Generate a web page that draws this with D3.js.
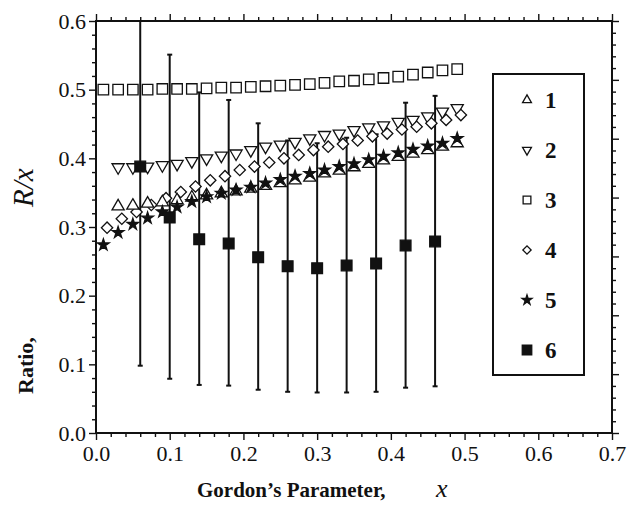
<!DOCTYPE html>
<html>
<head>
<meta charset="utf-8">
<script src="https://cdn.jsdelivr.net/npm/d3@7"></script>
<style>
  body { margin: 0; background: #fff; }
  svg text { font-family: 'Liberation Serif', 'Times New Roman', serif !important; fill: #111; }
</style>
</head>
<body>
<div id="chart"></div>
<script>
// values
const x3 = [0.01,0.03,0.05,0.07,0.09,0.11,0.13,0.15,0.17,0.19,0.21,0.23,0.25,0.27,0.29,0.31,0.33,0.35,0.37,0.39,0.41,0.43,0.45,0.47,0.49];
const y3 = [0.500,0.500,0.500,0.500,0.501,0.501,0.501,0.502,0.503,0.503,0.504,0.505,0.506,0.507,0.508,0.510,0.512,0.513,0.515,0.517,0.519,0.522,0.525,0.528,0.530];

const x12 = [0.03,0.05,0.07,0.09,0.11,0.13,0.15,0.17,0.19,0.21,0.23,0.25,0.27,0.29,0.31,0.33,0.35,0.37,0.39,0.41,0.43,0.45,0.47,0.49];
const y1 = [0.330,0.331,0.334,0.336,0.339,0.343,0.346,0.349,0.352,0.356,0.360,0.364,0.368,0.372,0.378,0.382,0.387,0.392,0.397,0.402,0.407,0.412,0.417,0.422];
const y2 = [0.387,0.387,0.388,0.390,0.392,0.396,0.400,0.404,0.407,0.412,0.417,0.420,0.424,0.429,0.434,0.436,0.441,0.445,0.448,0.453,0.456,0.461,0.468,0.473];

const x4 = [0.015,0.035,0.055,0.075,0.095,0.115,0.135,0.155,0.175,0.195,0.215,0.235,0.255,0.275,0.295,0.315,0.335,0.355,0.375,0.395,0.415,0.435,0.455,0.475,0.495];
const y4 = [0.299,0.312,0.322,0.332,0.342,0.351,0.359,0.368,0.374,0.383,0.388,0.394,0.400,0.405,0.412,0.417,0.421,0.426,0.432,0.436,0.442,0.446,0.451,0.456,0.463];

const x5 = [0.01,0.03,0.05,0.07,0.09,0.11,0.13,0.15,0.17,0.19,0.21,0.23,0.25,0.27,0.29,0.31,0.33,0.35,0.37,0.39,0.41,0.43,0.45,0.47,0.49];
const y5 = [0.274,0.292,0.304,0.313,0.322,0.329,0.337,0.344,0.349,0.354,0.358,0.364,0.369,0.374,0.378,0.383,0.388,0.392,0.398,0.403,0.408,0.413,0.418,0.422,0.429];

const x6 = [0.06,0.10,0.14,0.18,0.22,0.26,0.30,0.34,0.38,0.42,0.46];
const y6 = [0.388,0.314,0.282,0.276,0.256,0.243,0.240,0.244,0.247,0.273,0.279];
const lo6 = [0.098,0.079,0.070,0.069,0.063,0.060,0.059,0.059,0.060,0.066,0.068];
const hi6 = [0.680,0.551,0.496,0.485,0.451,0.426,0.422,0.430,0.435,0.481,0.491];

const xTickVals = [0,0.1,0.2,0.3,0.4,0.5,0.6,0.7];
const yTickVals = [0,0.1,0.2,0.3,0.4,0.5,0.6];
const legendLabels = ["1","2","3","4","5","6"];

const W = 637, H = 512;
const pLeft = 96, pRight = 612, pTop = 21, pBottom = 433;
const serif = "'Liberation Serif', 'Times New Roman', serif";

const svg = d3.select("#chart").append("svg")
    .attr("width", W).attr("height", H);

const x = d3.scaleLinear().domain([0, 0.7]).range([pLeft, pRight]);
const y = d3.scaleLinear().domain([0, 0.6]).range([pBottom, pTop]);
// right-hand frame carries its own unlabeled 7-division scale
const yR = d3.scaleLinear().domain([0, 0.7]).range([pBottom, pTop]);

const notMajor = v => Math.abs(v*10 - Math.round(v*10)) > 1e-6;
const minorX = d3.range(0, 0.7001, 0.02).filter(notMajor);
const minorY = d3.range(0, 0.6001, 0.02).filter(notMajor);
const minorYR = d3.range(0, 0.7001, 0.02).filter(notMajor);

function styleAxis(g) {
  g.attr("font-family", null);
  g.select(".domain").remove();
  g.selectAll(".tick line").attr("stroke", "#111").attr("stroke-width", 1.4);
  g.selectAll(".tick text").attr("fill", "#111")
    .style("font-family", serif).style("font-size", "22px");
}

// major + minor ticks on all four sides, pointing outward
svg.append("g").attr("transform", `translate(0,${pBottom})`)
  .call(d3.axisBottom(x).tickValues(xTickVals).tickSize(7).tickPadding(5).tickFormat(d3.format(".1f")))
  .call(styleAxis);
svg.append("g").attr("transform", `translate(0,${pBottom})`)
  .call(d3.axisBottom(x).tickValues(minorX).tickSize(4).tickFormat(""))
  .call(styleAxis);
svg.append("g").attr("transform", `translate(0,${pTop})`)
  .call(d3.axisTop(x).tickValues(xTickVals).tickSize(7).tickFormat(""))
  .call(styleAxis);
svg.append("g").attr("transform", `translate(0,${pTop})`)
  .call(d3.axisTop(x).tickValues(minorX).tickSize(4).tickFormat(""))
  .call(styleAxis);
svg.append("g").attr("transform", `translate(${pLeft},0)`)
  .call(d3.axisLeft(y).tickValues(yTickVals).tickSize(7).tickPadding(3).tickFormat(d3.format(".1f")))
  .call(styleAxis);
svg.append("g").attr("transform", `translate(${pLeft},0)`)
  .call(d3.axisLeft(y).tickValues(minorY).tickSize(4).tickFormat(""))
  .call(styleAxis);
svg.append("g").attr("transform", `translate(${pRight},0)`)
  .call(d3.axisRight(yR).tickValues(xTickVals).tickSize(7).tickFormat(""))
  .call(styleAxis);
svg.append("g").attr("transform", `translate(${pRight},0)`)
  .call(d3.axisRight(yR).tickValues(minorYR).tickSize(4).tickFormat(""))
  .call(styleAxis);

// frame
svg.append("rect")
  .attr("x", pLeft).attr("y", pTop)
  .attr("width", pRight - pLeft).attr("height", pBottom - pTop)
  .attr("fill", "none").attr("stroke", "#111").attr("stroke-width", 2);

svg.append("clipPath").attr("id", "plotclip")
  .append("rect").attr("x", pLeft).attr("y", pTop)
  .attr("width", pRight - pLeft).attr("height", pBottom - pTop);

const plot = svg.append("g").attr("clip-path", "url(#plotclip)");

// error bars of series 6
const bars = x6.map((v, i) => ({x: v, y: y6[i], lo: lo6[i], hi: hi6[i]}));
const eb = plot.append("g").attr("stroke", "#111").attr("stroke-width", 2);
eb.selectAll("line.v").data(bars).enter().append("line").attr("class", "v")
  .attr("x1", d => x(d.x)).attr("x2", d => x(d.x))
  .attr("y1", d => y(d.lo)).attr("y2", d => y(d.hi));
eb.selectAll("line.lo").data(bars).enter().append("line").attr("class", "lo")
  .attr("x1", d => x(d.x) - 2.5).attr("x2", d => x(d.x) + 2.5)
  .attr("y1", d => y(d.lo)).attr("y2", d => y(d.lo));
eb.selectAll("line.hi").data(bars).enter().append("line").attr("class", "hi")
  .attr("x1", d => x(d.x) - 2.5).attr("x2", d => x(d.x) + 2.5)
  .attr("y1", d => y(d.hi)).attr("y2", d => y(d.hi));

// symbol definitions
const sym = {
  up:   {path: d3.symbol(d3.symbolTriangle, 64)(), rot: 0, fill: "#fff"},
  down: {path: d3.symbol(d3.symbolTriangle, 64)(), rot: 180, fill: "#fff"},
  sq:   {path: d3.symbol(d3.symbolSquare, 110)(), rot: 0, fill: "#fff"},
  dia:  {path: d3.symbol(d3.symbolSquare, 64)(), rot: 45, fill: "#fff"},
  star: {path: d3.symbol(d3.symbolStar, 42)(), rot: 0, fill: "#111"},
  fsq:  {path: d3.symbol(d3.symbolSquare, 115)(), rot: 0, fill: "#111"}
};

function drawSeries(xs, ys, s) {
  const pts = xs.map((v, i) => [v, ys[i]]);
  plot.append("g").selectAll("path").data(pts).enter().append("path")
    .attr("d", s.path)
    .attr("transform", d => `translate(${x(d[0])},${y(d[1])}) rotate(${s.rot})`)
    .attr("fill", s.fill).attr("stroke", "#111").attr("stroke-width", 1.3);
}

drawSeries(x3, y3, sym.sq);
drawSeries(x12, y2, sym.down);
drawSeries(x4, y4, sym.dia);
drawSeries(x12, y1, sym.up);
drawSeries(x5, y5, sym.star);
drawSeries(x6, y6, sym.fsq);

// legend
const lg = svg.append("g");
lg.append("rect").attr("x", 493).attr("y", 74).attr("width", 91).attr("height", 301)
  .attr("fill", "#fff").attr("stroke", "#111").attr("stroke-width", 2);
const legendSyms = [
  {path: d3.symbol(d3.symbolTriangle, 34)(), rot: 0, fill: "#fff"},
  {path: d3.symbol(d3.symbolTriangle, 34)(), rot: 180, fill: "#fff"},
  {path: d3.symbol(d3.symbolSquare, 60)(), rot: 0, fill: "#fff"},
  {path: d3.symbol(d3.symbolSquare, 34)(), rot: 45, fill: "#fff"},
  {path: d3.symbol(d3.symbolStar, 30)(), rot: 0, fill: "#111"},
  {path: d3.symbol(d3.symbolSquare, 90)(), rot: 0, fill: "#111"}
];
legendLabels.forEach((lab, i) => {
  const ly = 100 + i * 50;
  lg.append("path").attr("d", legendSyms[i].path)
    .attr("transform", `translate(527,${ly}) rotate(${legendSyms[i].rot})`)
    .attr("fill", legendSyms[i].fill).attr("stroke", "#111").attr("stroke-width", 1.3);
  lg.append("text").attr("x", 545).attr("y", ly).attr("dy", "0.35em")
    .style("font-size", "23px").attr("font-weight", "bold").text(lab);
});

// axis titles
const xt = svg.append("text").attr("x", 197).attr("y", 497).style("font-size", "21px");
xt.append("tspan").attr("font-weight", "bold").text("Gordon\u2019s Parameter,");
xt.append("tspan").attr("x", 436).attr("font-style", "italic").style("font-size", "26px").text("x");

const yt = svg.append("text").attr("transform", "translate(33,394) rotate(-90)").style("font-size", "22px");
yt.append("tspan").attr("font-weight", "bold").text("Ratio,");
yt.append("tspan").attr("x", 187).attr("font-style", "italic").style("font-size", "29px").text("R/x");
</script>
</body>
</html>
